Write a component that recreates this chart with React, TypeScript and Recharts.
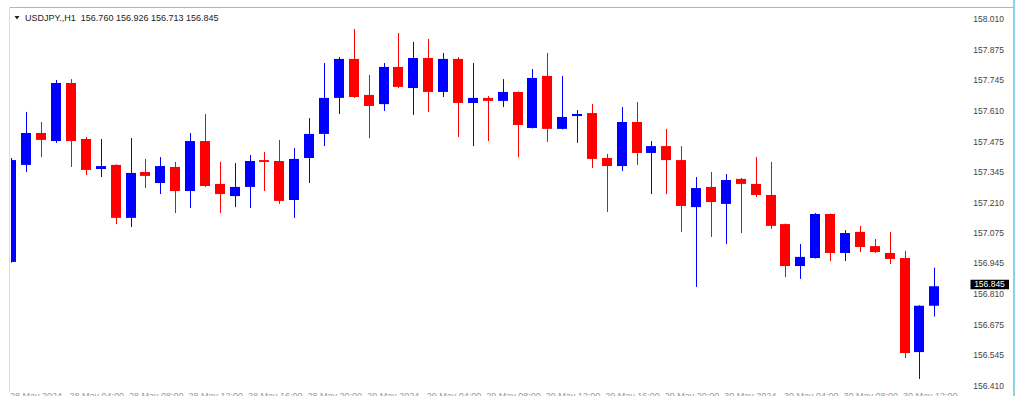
import React from "react";
import { ComposedChart, Bar, XAxis, YAxis } from "recharts";

// USDJPY H1 candles
const opens = [
  156.951, 157.374, 157.513, 157.478, 157.731, 157.487, 157.356, 157.374, 157.143, 157.343,
  157.295, 157.365, 157.26, 157.478, 157.291, 157.238, 157.278, 157.395, 157.391, 157.221,
  157.404, 157.509, 157.666, 157.836, 157.679, 157.639, 157.801, 157.709, 157.84, 157.692,
  157.836, 157.644, 157.666, 157.653, 157.692, 157.535, 157.762, 157.531, 157.587, 157.6,
  157.404, 157.369, 157.561, 157.426, 157.456, 157.395, 157.19, 157.278, 157.204, 157.313,
  157.291, 157.243, 157.116, 156.933, 156.968, 157.16, 156.99, 157.082, 157.02, 156.99,
  156.968, 156.558, 156.76,
];
const highs = [
  157.404, 157.605, 157.561, 157.744, 157.748, 157.496, 157.487, 157.376, 157.491, 157.4,
  157.408, 157.387, 157.513, 157.596, 157.387, 157.382, 157.417, 157.43, 157.483, 157.448,
  157.578, 157.818, 157.844, 157.966, 157.766, 157.818, 157.949, 157.91, 157.923, 157.862,
  157.844, 157.818, 157.674, 157.748, 157.694, 157.792, 157.862, 157.762, 157.613, 157.639,
  157.422, 157.626, 157.648, 157.478, 157.531, 157.456, 157.321, 157.343, 157.334, 157.317,
  157.408, 157.387, 157.118, 157.029, 157.164, 157.162, 157.09, 157.108, 157.051, 157.082,
  156.999, 156.762, 156.926,
];
const lows = [
  156.948, 157.343, 157.408, 157.47, 157.365, 157.33, 157.321, 157.116, 157.103, 157.273,
  157.247, 157.164, 157.186, 157.278, 157.164, 157.19, 157.186, 157.26, 157.204, 157.143,
  157.295, 157.456, 157.596, 157.666, 157.491, 157.609, 157.709, 157.592, 157.605, 157.67,
  157.496, 157.456, 157.478, 157.626, 157.408, 157.533, 157.474, 157.529, 157.47, 157.36,
  157.169, 157.347, 157.374, 157.247, 157.247, 157.082, 156.842, 157.06, 157.029, 157.077,
  157.234, 157.095, 156.885, 156.877, 156.966, 156.955, 156.955, 156.994, 156.99, 156.942,
  156.532, 156.441, 156.713,
];
const closes = [
  157.395, 157.513, 157.483, 157.731, 157.478, 157.352, 157.369, 157.143, 157.339, 157.326,
  157.369, 157.26, 157.478, 157.282, 157.247, 157.278, 157.391, 157.387, 157.217, 157.4,
  157.509, 157.666, 157.836, 157.67, 157.631, 157.801, 157.714, 157.84, 157.692, 157.836,
  157.644, 157.666, 157.653, 157.692, 157.548, 157.753, 157.531, 157.583, 157.596, 157.4,
  157.369, 157.561, 157.426, 157.456, 157.395, 157.195, 157.273, 157.212, 157.308, 157.291,
  157.243, 157.108, 156.933, 156.973, 157.16, 156.99, 157.077, 157.016, 156.994, 156.964,
  156.554, 156.76, 156.845,
];

// one label every 4 bars, starting at bar 1
const timeLabels = [
  "28 May 2024", "28 May 04:00", "28 May 08:00", "28 May 12:00",
  "28 May 16:00", "28 May 20:00", "29 May 2024", "29 May 04:00",
  "29 May 08:00", "29 May 12:00", "29 May 16:00", "29 May 20:00",
  "30 May 2024", "30 May 04:00", "30 May 08:00", "30 May 12:00",
];
const priceLabels = [
  "158.010", "157.875", "157.745", "157.610", "157.475", "157.345", "157.210",
  "157.075", "156.945", "156.810", "156.675", "156.545", "156.410",
];
const lastPrice = 156.845;
const symbolText = "USDJPY.,H1";
const ohlcText = "156.760 156.926 156.713 156.845";

const data = opens.map((open, i) => ({
  idx: i + 1,
  open,
  high: highs[i],
  low: lows[i],
  close: closes[i],
  range: [lows[i], highs[i]],
}));

const timeTicks = timeLabels.map((_, i) => 1 + i * 4);
const priceTicks = [...priceLabels.map(Number), lastPrice];

const UP = "#0000ff";
const DOWN = "#ff0000";
const FONT = "'Liberation Sans', Arial, sans-serif";

function Candle(props: any) {
  const { x, y, width, height } = props;
  const p = props.payload ?? props;
  if (x == null || y == null || p == null) return null;
  const span = p.high - p.low || 1e-9;
  const py = (v: number) => y + ((p.high - v) / span) * height;
  const color = p.close >= p.open ? UP : DOWN;
  const cx = Math.round(x + width / 2) + 0.5;
  const top = py(Math.max(p.open, p.close));
  const bot = py(Math.min(p.open, p.close));
  return (
    <g>
      <line x1={cx} x2={cx} y1={y} y2={y + height} stroke={color} strokeWidth={1} />
      <rect x={cx - 5.5} y={top} width={10} height={Math.max(bot - top, 1.5)} fill={color} />
    </g>
  );
}

function PriceTick(props: any) {
  const { x, y, payload } = props;
  const v = payload.value;
  if (v === lastPrice) {
    return (
      <g>
        <rect x={x + 4.5} y={y - 6.5} width={38.5} height={9.5} fill="#000" />
        <text x={x + 23.5} y={y + 1.2} textAnchor="middle" fontSize={8.5} fontFamily={FONT} fill="#fff">
          {v.toFixed(3)}
        </text>
      </g>
    );
  }
  return (
    <text x={x + 38} y={y + 3} textAnchor="end" fontSize={8.5} fontFamily={FONT} fill="#444">
      {v.toFixed(3)}
    </text>
  );
}

function TimeTick(props: any) {
  const { x, y, index } = props;
  return (
    <text x={x - 2} y={y + 6.5} textAnchor="start" fontSize={9} fontFamily={FONT} fill="#999">
      {timeLabels[index]}
    </text>
  );
}

export default function App() {
  return (
    <div
      style={{
        position: "absolute",
        left: 0,
        top: 0,
        width: 1024,
        height: 396,
        overflow: "hidden",
        background: "#fff",
      }}
    >
      <ComposedChart
        width={1013}
        height={412}
        data={data}
        margin={{ top: 7, right: 0, left: 11, bottom: 0 }}
      >
        <XAxis
          type="number"
          dataKey="idx"
          domain={[0.94, 65.1]}
          allowDataOverflow
          ticks={timeTicks}
          interval={0}
          tick={<TimeTick />}
          axisLine={false}
          tickLine={false}
          tickSize={0}
          tickMargin={0}
          height={20}
        />
        <YAxis
          orientation="right"
          type="number"
          domain={[156.384, 158.0623]}
          allowDataOverflow
          ticks={priceTicks}
          interval={0}
          tick={<PriceTick />}
          axisLine={false}
          tickLine={false}
          tickSize={0}
          tickMargin={0}
          width={47}
        />
        <Bar dataKey="range" barSize={10} shape={<Candle />} isAnimationActive={false} />
      </ComposedChart>

      <svg
        width={1024}
        height={396}
        style={{ position: "absolute", left: 0, top: 0, pointerEvents: "none" }}
      >
        <line x1={9} x2={1013} y1={7.5} y2={7.5} stroke="#b4b4b4" strokeWidth={1} />
        <line x1={9.5} x2={9.5} y1={7} y2={392} stroke="#dcdcdc" strokeWidth={1} />
        <line x1={1014} x2={1014} y1={0} y2={396} stroke="#8fd0ea" strokeWidth={2} />
        <path d="M14.5 16 L19.5 16 L17 19.5 Z" fill="#222" />
        <text x={25} y={21} fontSize={9} fontFamily={FONT} fill="#222" style={{ whiteSpace: "pre" }}>
          {symbolText + "  " + ohlcText}
        </text>
      </svg>
    </div>
  );
}
